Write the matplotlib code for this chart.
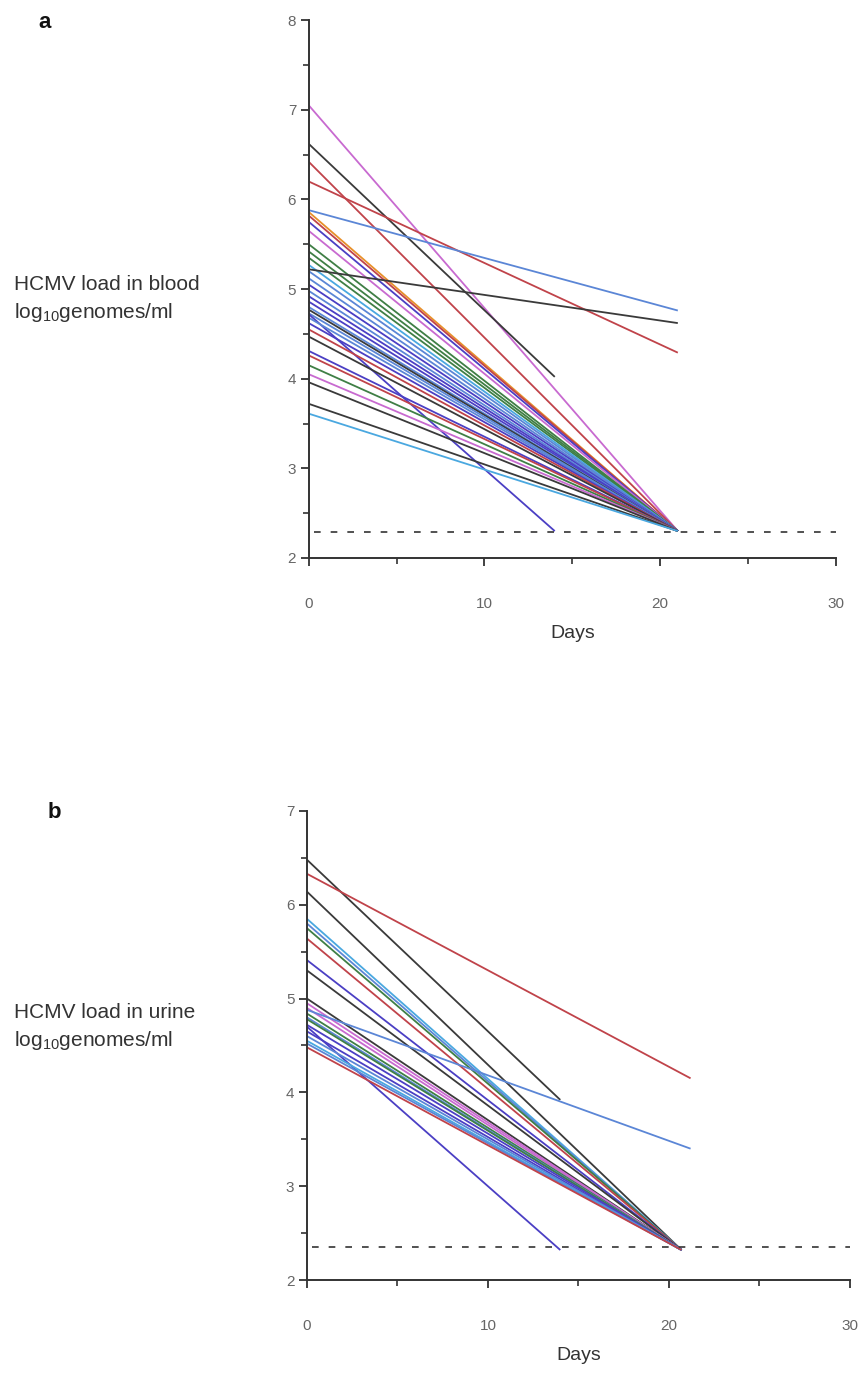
import matplotlib
matplotlib.use("Agg")
import matplotlib.pyplot as plt
from matplotlib.ticker import MultipleLocator

plt.rcParams['font.family'] = ['Liberation Sans', 'DejaVu Sans']

# colour names used in the figure
MAG = '#c86ad0'
BLK = '#3a3a3a'
RED = '#c0434a'
LBL = '#5b86d6'
PUR = '#4b3fc4'
GRN = '#3f7f45'
CYN = '#4aa8e0'
ORG = '#e8902a'

# ---- panel a: blood ----
blood_start = [7.05, 6.62, 6.42, 6.20, 5.88, 5.86, 5.82, 5.75, 5.65, 5.50,
               5.42, 5.35, 5.27, 5.22, 5.20, 5.12, 5.05, 4.98, 4.92, 4.86,
               4.80, 4.77, 4.73, 4.72, 4.68, 4.62, 4.55, 4.47, 4.31, 4.26,
               4.15, 4.05, 3.96, 3.72, 3.61]
blood_end_day = [21, 14, 21, 21, 21, 21, 21, 21, 21, 21,
                 21, 21, 21, 21, 21, 21, 21, 21, 21, 21,
                 21, 21, 21, 14, 21, 21, 21, 21, 21, 21,
                 21, 21, 21, 21, 21]
blood_end = [2.30, 4.02, 2.30, 4.29, 4.76, 2.30, 2.30, 2.30, 2.30, 2.30,
             2.30, 2.30, 2.30, 4.62, 2.30, 2.30, 2.30, 2.30, 2.30, 2.30,
             2.30, 2.30, 2.30, 2.30, 2.30, 2.30, 2.30, 2.30, 2.30, 2.30,
             2.30, 2.30, 2.30, 2.30, 2.30]
blood_colors = [MAG, BLK, RED, RED, LBL, ORG, RED, PUR, MAG, GRN,
                GRN, GRN, CYN, BLK, LBL, LBL, PUR, LBL, PUR, PUR,
                LBL, BLK, LBL, PUR, LBL, PUR, RED, BLK, PUR, RED,
                GRN, MAG, BLK, BLK, CYN]
blood_cutoff = 2.29

# ---- panel b: urine ----
urine_start = [6.48, 6.33, 6.14, 5.85, 5.80, 5.75, 5.64, 5.41, 5.30, 5.00,
               4.95, 4.90, 4.88, 4.84, 4.80, 4.78, 4.72, 4.70, 4.65, 4.60,
               4.55, 4.52, 4.48]
urine_end_day = [14, 21.2, 20.7, 20.7, 20.7, 20.7, 20.7, 20.7, 20.7, 20.7,
                 20.7, 20.7, 21.2, 20.7, 20.7, 20.7, 20.7, 14, 20.7, 20.7,
                 20.7, 20.7, 20.7]
urine_end = [3.92, 4.15, 2.32, 2.32, 2.32, 2.32, 2.32, 2.32, 2.32, 2.32,
             2.32, 2.32, 3.40, 2.32, 2.32, 2.32, 2.32, 2.32, 2.32, 2.32,
             2.32, 2.32, 2.32]
urine_colors = [BLK, RED, BLK, CYN, LBL, GRN, RED, PUR, BLK, BLK,
                MAG, MAG, LBL, GRN, LBL, GRN, PUR, PUR, PUR, LBL,
                CYN, LBL, RED]
urine_cutoff = 2.35

x_ticks = [0, 10, 20, 30]


def style_axis(ax, ymax):
    ax.set_xlim(0, 30)
    ax.set_ylim(2, ymax)
    for s in ['top', 'right']:
        ax.spines[s].set_visible(False)
    for s in ['left', 'bottom']:
        ax.spines[s].set_linewidth(1.4)
        ax.spines[s].set_color('#333333')
    ax.set_xticks(x_ticks)
    ax.set_xticklabels([str(t) for t in x_ticks])
    ax.xaxis.set_minor_locator(MultipleLocator(5))
    ax.yaxis.set_major_locator(MultipleLocator(1))
    ax.yaxis.set_minor_locator(MultipleLocator(0.5))
    ax.tick_params(axis='both', which='major', direction='out', length=6,
                   width=1.3, color='#333333', labelcolor='#666666', labelsize=11)
    ax.tick_params(axis='both', which='minor', direction='out', length=4,
                   width=1.2, color='#333333')
    ax.tick_params(axis='x', which='major', pad=22)
    ax.tick_params(axis='y', which='major', pad=3)
    ax.set_xlabel('Days', fontsize=14, color='#333333', labelpad=10)


def draw_lines(ax, start, end_day, end, colors, cutoff):
    for y0, d1, y1, c in zip(start, end_day, end, colors):
        ax.plot([0, d1], [y0, y1], color=c, lw=1.3, solid_capstyle='butt')
    ax.plot([0.3, 30], [cutoff, cutoff], color='#333333', lw=1.2,
            linestyle=(0, (4, 6)))


fig = plt.figure(figsize=(8.61, 13.74), dpi=100)

ax1 = fig.add_axes([0.3585, 0.5939, 0.6125, 0.3915])
draw_lines(ax1, blood_start, blood_end_day, blood_end, blood_colors, blood_cutoff)
style_axis(ax1, 8)

ax2 = fig.add_axes([0.3565, 0.0684, 0.6305, 0.3414])
draw_lines(ax2, urine_start, urine_end_day, urine_end, urine_colors, urine_cutoff)
style_axis(ax2, 7)

txt = dict(fontsize=15, color='#333333', ha='left', va='center')
fig.text(14 / 861, 1 - 284 / 1374, 'HCMV load in blood', **txt)
fig.text(14 / 861, 1 - 313 / 1374, r'log$_{\mathregular{10}}$genomes/ml', **txt)
fig.text(14 / 861, 1 - 1012 / 1374, 'HCMV load in urine', **txt)
fig.text(14 / 861, 1 - 1041 / 1374, r'log$_{\mathregular{10}}$genomes/ml', **txt)

fig.text(45 / 861, 1 - 22 / 1374, 'a', fontsize=16, fontweight='bold',
         ha='center', va='center', color='#111111')
fig.text(54 / 861, 1 - 812 / 1374, 'b', fontsize=16, fontweight='bold',
         ha='center', va='center', color='#111111')

fig.savefig('out.png', dpi=100)
